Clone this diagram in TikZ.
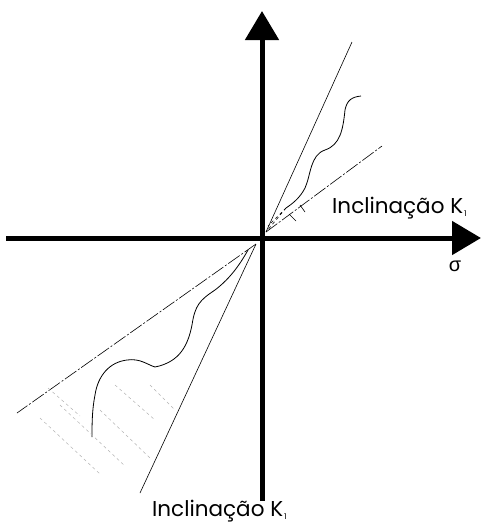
\documentclass[tikz,border=0pt]{standalone}
\usepackage{fontspec}
\setmainfont{Poppins}
\newfontfamily\greekfont{Liberation Sans}
\usetikzlibrary{arrows.meta}
\tikzset{
  axis/.style={line width=5pt, -{Triangle[length=29pt,width=33pt]}},
  bound/.style={line width=0.6pt},
  wavy/.style={line width=0.8pt},
  hatch/.style={gray!60, dashed, line width=0.5pt},
  slopelabel/.style={anchor=base west, inner sep=0pt, font=\fontsize{21.5}{24}\selectfont},
}
\begin{document}
\begin{tikzpicture}[x=1pt,y=-1pt]
\useasboundingbox (0,0) rectangle (482,523);
% axes
\coordinate (xl) at (6,238);
\coordinate (xr) at (481,238);
\coordinate (yb) at (262,501);
\coordinate (yt) at (262,11);
\draw[axis] (xl) -- (xr);
\draw[axis] (yb) -- (yt);
\node[inner sep=0pt, font=\greekfont\fontsize{20}{22}\selectfont] (sig) at (455,266) {σ};
% upper right cone
\coordinate (o1) at (266,232);
\coordinate (st1) at (352,42);
\coordinate (sh1) at (382,146);
\draw[bound] (o1) -- (st1);
\draw[bound, dash pattern=on 14pt off 2pt on 2pt off 2pt] (o1) -- (sh1);
\draw[wavy] (361,96) .. controls (352,97) and (347,100) .. (345,110)
  .. controls (343,130) and (340,145) .. (325,150)
  .. controls (310,155) and (311,175) .. (305,188)
  .. controls (300,198) and (292,204) .. (286,208);
\draw[bound, dashed] (286,208) -- (o1);
\draw[bound, dashed] (286,208) -- (268,226);
\draw[bound] (289,214) -- (296,221);
\draw[bound] (300,205) -- (305,212);
% lower left cone
\coordinate (o3) at (256,244);
\coordinate (st3) at (140,493);
\coordinate (sh3) at (17,413);
\draw[bound] (o3) -- (st3);
\draw[bound, dash pattern=on 14pt off 2pt on 2pt off 2pt] (o3) -- (sh3);
\draw[wavy] (248,250) .. controls (238,268) and (228,280) .. (215,290)
  .. controls (200,300) and (195,305) .. (192,325)
  .. controls (188,345) and (180,362) .. (155,367)
  .. controls (148,365) and (140,358) .. (127,360)
  .. controls (110,362) and (98,375) .. (95,395)
  .. controls (92,410) and (92,425) .. (92,437);
\draw[hatch] (40,418) -- (100,474);
\draw[hatch] (60,405) -- (125,466);
\draw[hatch] (48,388) -- (80,416);
\draw[hatch] (100,410) -- (150,458);
\draw[hatch] (115,385) -- (155,420);
\draw[hatch] (150,385) -- (175,410);
% slope labels
\node[slopelabel] (lab1) at (332,213) {Inclinação K\kern1pt\raisebox{-3pt}{\fontsize{8}{8}\selectfont 1}};
\node[slopelabel] (lab2) at (152,516) {Inclinação K\kern1pt\raisebox{-3pt}{\fontsize{8}{8}\selectfont 1}};
\end{tikzpicture}
\end{document}
